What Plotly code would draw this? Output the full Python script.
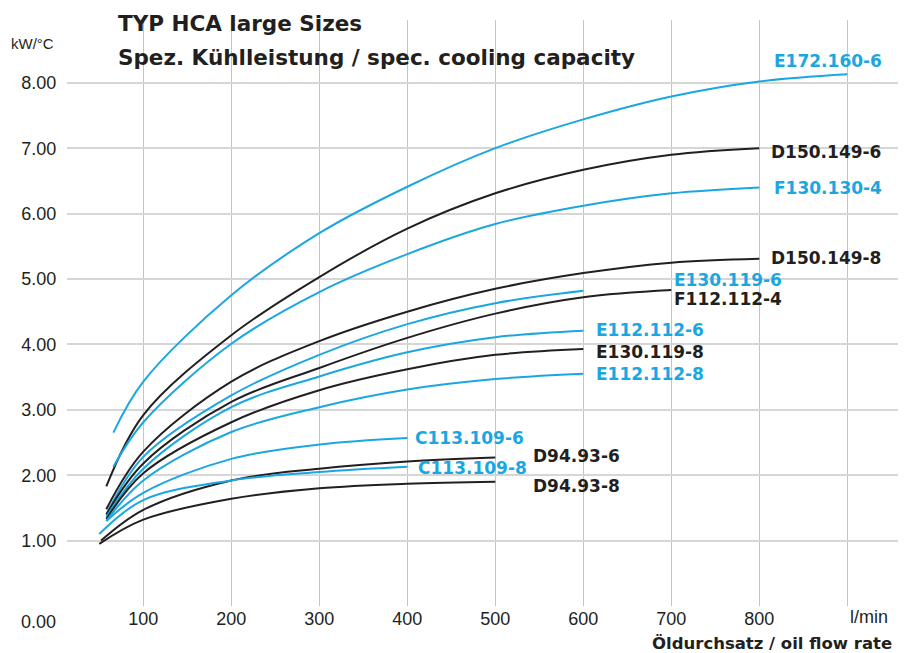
import plotly.graph_objects as go

BLUE = "#1aa7e1"
BLACK = "#231f20"

# ---- data ----
names = ["E172.160-6", "D150.149-6", "F130.130-4", "D150.149-8", "E130.119-6",
         "F112.112-4", "E112.112-6", "E130.119-8", "E112.112-8", "C113.109-6",
         "D94.93-6", "C113.109-8", "D94.93-8"]

x_e172 = [66, 100, 200, 300, 400, 500, 600, 700, 800, 900]
y_e172 = [2.65, 3.43, 4.75, 5.70, 6.41, 7.00, 7.44, 7.79, 8.02, 8.13]

x_d150_6 = [58, 100, 200, 300, 400, 500, 600, 700, 800]
y_d150_6 = [1.83, 2.92, 4.14, 5.03, 5.77, 6.31, 6.67, 6.90, 7.00]

x_f130 = [66, 100, 200, 300, 400, 500, 600, 700, 800]
y_f130 = [2.13, 2.81, 4.01, 4.80, 5.38, 5.84, 6.12, 6.31, 6.40]

x_d150_8 = [58, 100, 200, 300, 400, 500, 600, 700, 800]
y_d150_8 = [1.48, 2.36, 3.43, 4.05, 4.50, 4.85, 5.09, 5.25, 5.31]

x_e130_6 = [58, 100, 200, 300, 400, 500, 600]
y_e130_6 = [1.40, 2.28, 3.22, 3.84, 4.31, 4.63, 4.82]

x_f112 = [58, 100, 200, 300, 400, 500, 600, 700]
y_f112 = [1.40, 2.18, 3.12, 3.64, 4.10, 4.47, 4.72, 4.83]

x_e112_6 = [58, 100, 200, 300, 400, 500, 600]
y_e112_6 = [1.36, 2.10, 3.04, 3.51, 3.88, 4.11, 4.21]

x_e130_8 = [58, 100, 200, 300, 400, 500, 600]
y_e130_8 = [1.33, 2.03, 2.81, 3.30, 3.62, 3.84, 3.93]

x_e112_8 = [58, 100, 200, 300, 400, 500, 600]
y_e112_8 = [1.30, 1.92, 2.66, 3.04, 3.31, 3.47, 3.55]

x_c113_6 = [58, 100, 200, 300, 400]
y_c113_6 = [1.30, 1.73, 2.25, 2.47, 2.57]

x_d94_6 = [52, 100, 200, 300, 400, 500]
y_d94_6 = [1.00, 1.47, 1.92, 2.10, 2.21, 2.27]

x_c113_8 = [50, 100, 200, 300, 400]
y_c113_8 = [1.10, 1.62, 1.92, 2.05, 2.13]

x_d94_8 = [50, 100, 200, 300, 400, 500]
y_d94_8 = [0.95, 1.32, 1.64, 1.80, 1.87, 1.90]

series_x = [x_e172, x_d150_6, x_f130, x_d150_8, x_e130_6, x_f112, x_e112_6,
            x_e130_8, x_e112_8, x_c113_6, x_d94_6, x_c113_8, x_d94_8]
series_y = [y_e172, y_d150_6, y_f130, y_d150_8, y_e130_6, y_f112, y_e112_6,
            y_e130_8, y_e112_8, y_c113_6, y_d94_6, y_c113_8, y_d94_8]

x_ticks = [100, 200, 300, 400, 500, 600, 700, 800, 900]
x_tick_text = ["100", "200", "300", "400", "500", "600", "700", "800", ""]
y_ticks = [1, 2, 3, 4, 5, 6, 7, 8]
y_tick_text = ["1.00", "2.00", "3.00", "4.00", "5.00", "6.00", "7.00", "8.00"]

# ---- styles / label positions ----
colors = [BLUE, BLACK, BLUE, BLACK, BLUE, BLACK, BLUE, BLACK, BLUE, BLUE, BLACK, BLUE, BLACK]
label_pos = [(814, 8.33), (811, 6.94), (814, 6.39), (811, 5.32), (701, 4.98),
             (701, 4.69), (612, 4.22), (612, 3.88), (612, 3.54), (406, 2.57),
             (541, 2.30), (410, 2.11), (541, 1.83)]

FONT = "Liberation Sans, Arial, Helvetica, sans-serif"
BFONT = "DejaVu Sans, Verdana, sans-serif"

# page has an 8px body margin: figure occupies window pixels [8, 906] x [8, 653]
OFF = 8
WIN_W, WIN_H = 906, 653
W, H = WIN_W - OFF, WIN_H - OFF
# plot area in window pixels
PL, PR, PT, PB = 67, 906, 20, 606
L, R, T, B = PL - OFF, WIN_W - PR, PT - OFF, WIN_H - PB


def paper_x(px):
    return (px - PL) / (PR - PL)


def paper_y(py):
    return (PB - py) / (PB - PT)


fig = go.Figure()
for nm, xs, ys, c in zip(names, series_x, series_y, colors):
    fig.add_trace(go.Scatter(x=xs, y=ys, mode="lines", name=nm,
                             line=dict(color=c, width=2, shape="spline", smoothing=1.0),
                             hoverinfo="skip"))

annotations = []
for nm, (lx, ly), c in zip(names, label_pos, colors):
    annotations.append(dict(x=lx, y=ly, xref="x", yref="y", text=nm, showarrow=False,
                            xanchor="left", yanchor="middle",
                            font=dict(family=BFONT, size=17, color=c, weight="bold")))

pix_ann = [
    (116, 24, "TYP HCA large Sizes", "left", BFONT, 21.5, "bold"),
    (116, 57, "Spez. Kühlleistung / spec. cooling capacity", "left", BFONT, 21.5, "bold"),
    (9, 43, "kW/°C", "left", FONT, 15, "normal"),
    (58, 622, "0.00", "right", FONT, 18, "normal"),
    (869, 617, "l/min", "center", FONT, 18, "normal"),
    (894, 643, "Öldurchsatz / oil flow rate", "right", BFONT, 16.5, "bold"),
]
for px, py, txt, xa, fam, sz, wt in pix_ann:
    annotations.append(dict(x=paper_x(px), y=paper_y(py), xref="paper", yref="paper",
                            text=txt, showarrow=False, xanchor=xa, yanchor="middle",
                            font=dict(family=fam, size=sz, color=BLACK, weight=wt)))

fig.update_layout(
    width=W, height=H,
    margin=dict(l=L, r=R, t=T, b=B, pad=0),
    paper_bgcolor="white", plot_bgcolor="white",
    showlegend=False,
    font=dict(family=FONT, size=18, color=BLACK),
    annotations=annotations,
    xaxis=dict(range=[13.3, 966.7], tickvals=x_ticks, ticktext=x_tick_text,
               showgrid=True, gridcolor="#c4c4c4", gridwidth=1,
               zeroline=False, showline=False,
               ticks="", ticklen=0,
               tickfont=dict(family=FONT, size=18, color=BLACK)),
    yaxis=dict(range=[0, 8.96], tickvals=y_ticks, ticktext=y_tick_text,
               showgrid=True, gridcolor="#d6d6d6", gridwidth=1.5,
               zeroline=False, showline=False,
               ticks="outside", ticklen=6, tickcolor="rgba(0,0,0,0)",
               tickfont=dict(family=FONT, size=18, color=BLACK)),
)

fig.write_html("out.html")
